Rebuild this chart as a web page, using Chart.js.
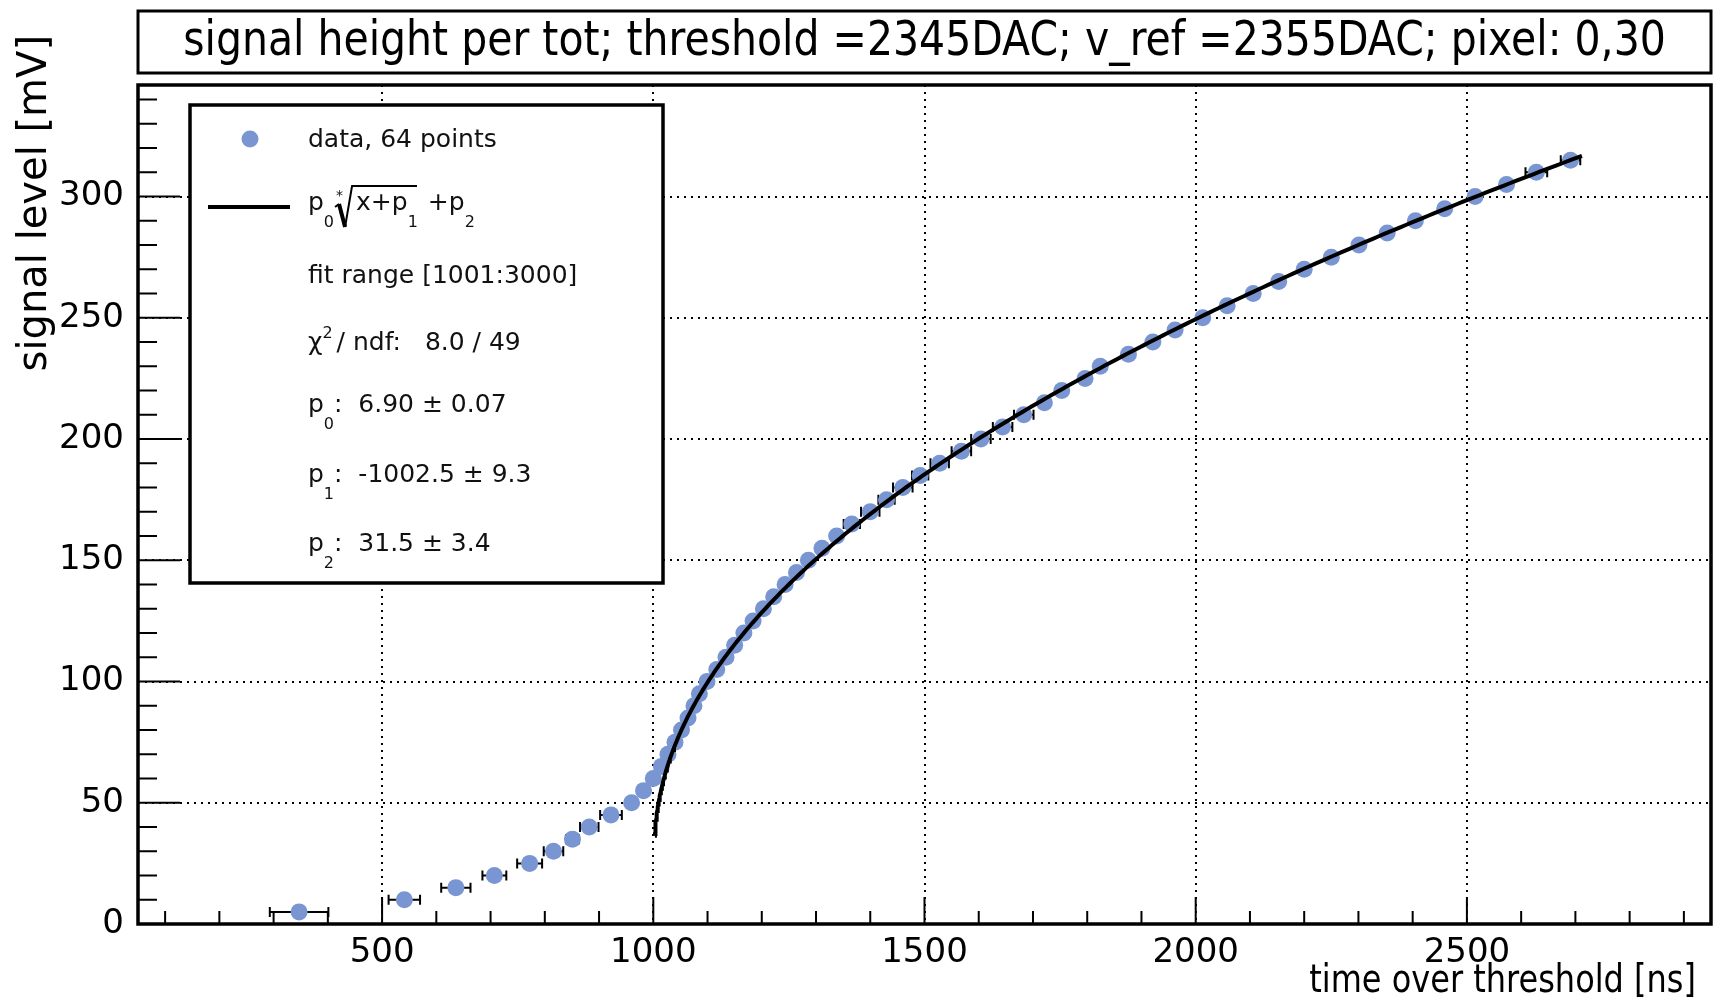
<!DOCTYPE html>
<html>
<head>
<meta charset="utf-8">
<script src="https://cdn.jsdelivr.net/npm/chart.js@4.4.0/dist/chart.umd.min.js"></script>
<style>
  html, body { margin: 0; padding: 0; background: #fff; }
</style>
</head>
<body>
<canvas id="chart" width="1720" height="1007"></canvas>
<script>
// signal level steps [mV] and the measured time over threshold [ns]
const levels = [5, 10, 15, 20, 25, 30, 35, 40, 45, 50, 55, 60, 65, 70, 75, 80, 85, 90, 95, 100,
  105, 110, 115, 120, 125, 130, 135, 140, 145, 150, 155, 160, 165, 170, 175, 180, 185, 190, 195, 200,
  205, 210, 215, 220, 225, 230, 235, 240, 245, 250, 255, 260, 265, 270, 275, 280, 285, 290, 295, 300,
  305, 310, 315];
const tot = [347, 541, 636, 707, 772, 816, 851, 882, 922, 960, 982, 1000, 1015, 1027, 1040, 1052, 1064, 1075, 1085, 1099,
  1117, 1134, 1150, 1167, 1184, 1203, 1222, 1243, 1264, 1286, 1311, 1338, 1366, 1400, 1430, 1460, 1492, 1528, 1568, 1604,
  1644, 1683, 1721, 1753, 1796, 1824, 1876, 1921, 1962, 2013, 2058, 2106, 2153, 2200, 2250, 2301, 2353, 2405, 2459, 2515,
  2573, 2628, 2691];
const totErr = [54, 29, 27, 22, 23, 18, 12, 17, 20, 10, 8, 5, 5, 5, 5, 5, 5, 5, 5, 5,
  5, 5, 5, 5, 5, 5, 5, 5, 5, 5, 5, 5, 15, 17, 15, 18, 15, 17, 18, 18,
  18, 18, 6, 6, 6, 6, 6, 6, 6, 6, 6, 6, 6, 6, 6, 6, 6, 6, 6, 6,
  6, 20, 18];
const xTicks = [500, 1000, 1500, 2000, 2500];
const yTicks = [0, 50, 100, 150, 200, 250, 300];

// fit result shown in the legend: p0*sqrt(x+p1)+p2
const fitParams = [6.90, -1002.5, 31.5];
const fitDrawRange = [1003, 2712];

const FONT = '"DejaVu Sans", Verdana, sans-serif';
const MARKER = '#7996d2';

const fitPoints = [];
for (let i = 0; i <= 300; i++) {
  const x = fitDrawRange[0] + (fitDrawRange[1] - fitDrawRange[0]) * Math.pow(i / 300, 2);
  fitPoints.push({ x: x, y: fitParams[0] * Math.sqrt(x + fitParams[1]) + fitParams[2] });
}

// draw text pieces one after another, with sub/superscripts
function drawRich(ctx, parts, x, y) {
  parts.forEach(p => {
    let size = 25, dy = 0;
    if (p.sub) { size = 16; dy = 17; }
    if (p.sup) { size = 16; dy = -12; }
    ctx.font = size + 'px ' + FONT;
    ctx.fillText(p.t, x, y + dy);
    x += ctx.measureText(p.t).width + (p.gap || 0);
  });
  return x;
}

// text that is a bit taller than the font, like in the original picture
function tallText(ctx, text, x, y, stretch) {
  ctx.save();
  ctx.translate(x, y);
  ctx.scale(1, stretch);
  ctx.fillText(text, 0, 0);
  ctx.restore();
}

const rootStyle = {
  id: 'rootStyle',
  beforeDatasetsDraw(chart) {
    // horizontal error bars with end caps
    const ctx = chart.ctx, xs = chart.scales.x, ys = chart.scales.y;
    ctx.save();
    ctx.strokeStyle = '#000';
    ctx.lineWidth = 2;
    for (let i = 0; i < tot.length; i++) {
      const x1 = xs.getPixelForValue(tot[i] - totErr[i]);
      const x2 = xs.getPixelForValue(tot[i] + totErr[i]);
      const y = ys.getPixelForValue(levels[i]);
      ctx.beginPath();
      ctx.moveTo(x1, y); ctx.lineTo(x2, y);
      ctx.moveTo(x1, y - 5); ctx.lineTo(x1, y + 5);
      ctx.moveTo(x2, y - 5); ctx.lineTo(x2, y + 5);
      ctx.stroke();
    }
    ctx.restore();
  },
  afterDatasetsDraw(chart) {
    const ctx = chart.ctx, a = chart.chartArea, xs = chart.scales.x, ys = chart.scales.y;
    ctx.save();
    ctx.strokeStyle = '#000';
    ctx.fillStyle = '#000';

    // tick marks inside the frame
    ctx.lineWidth = 2;
    ctx.beginPath();
    for (let v = 100; v < xs.max; v += 100) {
      const px = xs.getPixelForValue(v);
      const len = v % 500 === 0 ? 27 : 13;
      ctx.moveTo(px, a.bottom); ctx.lineTo(px, a.bottom - len);
    }
    for (let v = 10; v < ys.max; v += 10) {
      const py = ys.getPixelForValue(v);
      const len = v % 50 === 0 ? 42 : 19;
      ctx.moveTo(a.left, py); ctx.lineTo(a.left + len, py);
    }
    ctx.stroke();

    // frame
    ctx.lineWidth = 3.5;
    ctx.strokeRect(a.left, a.top, a.right - a.left, a.bottom - a.top);

    // title box
    ctx.lineWidth = 3;
    ctx.strokeRect(a.left, 11, a.right - a.left, 62);
    ctx.font = '41px ' + FONT;
    ctx.textAlign = 'center';
    ctx.textBaseline = 'middle';
    tallText(ctx, 'signal height per tot; threshold =2345DAC; v_ref =2355DAC; pixel: 0,30', (a.left + a.right) / 2, 42, 1.18);

    // axis titles
    ctx.textBaseline = 'alphabetic';
    ctx.textAlign = 'right';
    ctx.font = '32px ' + FONT;
    tallText(ctx, 'time over threshold [ns]', 1696, 992, 1.22);
    ctx.save();
    ctx.translate(46, 35);
    ctx.rotate(-Math.PI / 2);
    ctx.font = '40px ' + FONT;
    ctx.fillText('signal level [mV]', 0, 0);
    ctx.restore();

    // legend box
    ctx.fillStyle = '#fff';
    ctx.fillRect(190, 105, 473, 478);
    ctx.lineWidth = 3.5;
    ctx.strokeRect(190, 105, 473, 478);

    ctx.fillStyle = MARKER;
    ctx.beginPath();
    ctx.arc(250, 139, 8.5, 0, Math.PI * 2);
    ctx.fill();
    ctx.lineWidth = 4;
    ctx.beginPath();
    ctx.moveTo(208, 207); ctx.lineTo(290, 207);
    ctx.stroke();

    ctx.fillStyle = '#111';
    ctx.textAlign = 'left';
    const tx = 308;
    drawRich(ctx, [{ t: 'data, 64 points' }], tx, 147);

    // p0 * sqrt(x+p1) + p2
    let x = drawRich(ctx, [{ t: 'p' }, { t: '0', sub: true }], tx, 210);
    ctx.font = '14px ' + FONT;
    ctx.fillText('*', x + 2, 200);
    ctx.lineWidth = 2;
    ctx.beginPath();
    ctx.moveTo(x + 1, 207); ctx.lineTo(x + 5, 204);
    ctx.stroke();
    ctx.lineWidth = 4;
    ctx.beginPath();
    ctx.moveTo(x + 5, 204); ctx.lineTo(x + 11, 227);
    ctx.stroke();
    ctx.lineWidth = 2;
    ctx.beginPath();
    ctx.moveTo(x + 11, 227); ctx.lineTo(x + 18, 186); ctx.lineTo(417, 186);
    ctx.stroke();
    x = drawRich(ctx, [{ t: 'x+p' }, { t: '1', sub: true, gap: 10 }, { t: '+p' }, { t: '2', sub: true }], x + 22, 210);

    drawRich(ctx, [{ t: 'fit range [1001:3000]' }], tx, 283);
    drawRich(ctx, [{ t: '\u03c7' }, { t: '2', sup: true, gap: 4 }, { t: '/ ndf:   8.0 / 49' }], tx, 350);
    drawRich(ctx, [{ t: 'p' }, { t: '0', sub: true }, { t: ':  6.90 \u00b1 0.07' }], tx, 412);
    drawRich(ctx, [{ t: 'p' }, { t: '1', sub: true }, { t: ':  -1002.5 \u00b1 9.3' }], tx, 482);
    drawRich(ctx, [{ t: 'p' }, { t: '2', sub: true }, { t: ':  31.5 \u00b1 3.4' }], tx, 551);

    ctx.restore();
  }
};

const ctx = document.getElementById('chart').getContext('2d');
const chart = new Chart(ctx, {
  data: {
    datasets: [
      {
        type: 'line',
        label: 'fit',
        data: fitPoints,
        borderColor: '#000',
        borderWidth: 4,
        pointRadius: 0,
        fill: false,
        tension: 0
      },
      {
        type: 'scatter',
        label: 'data, 64 points',
        data: tot.map((t, i) => ({ x: t, y: levels[i] })),
        backgroundColor: MARKER,
        pointRadius: 8.5,
        pointBorderWidth: 0
      }
    ]
  },
  plugins: [rootStyle],
  options: {
    responsive: false,
    animation: false,
    devicePixelRatio: 1,
    layout: { padding: { top: 85, right: 9, left: 0, bottom: 0 } },
    plugins: {
      legend: { display: false },
      title: { display: false },
      tooltip: { enabled: false }
    },
    scales: {
      x: {
        type: 'linear',
        min: 50,
        max: 2950,
        afterBuildTicks: s => { s.ticks = xTicks.map(v => ({ value: v })); },
        afterFit: s => { s.height = 83; },
        ticks: { color: '#000', font: { family: FONT, size: 34 }, padding: 9, maxRotation: 0, callback: v => String(v) },
        grid: { color: '#000', lineWidth: 2, drawTicks: false },
        border: { display: false, dash: [2, 5] }
      },
      y: {
        type: 'linear',
        min: 0,
        max: 346,
        afterBuildTicks: s => { s.ticks = yTicks.map(v => ({ value: v })); },
        afterFit: s => { s.width = 138; },
        ticks: { color: '#000', font: { family: FONT, size: 34 }, padding: 14, callback: v => String(v) },
        grid: { color: '#000', lineWidth: 2, drawTicks: false },
        border: { display: false, dash: [2, 5] }
      }
    }
  }
});
</script>
</body>
</html>
